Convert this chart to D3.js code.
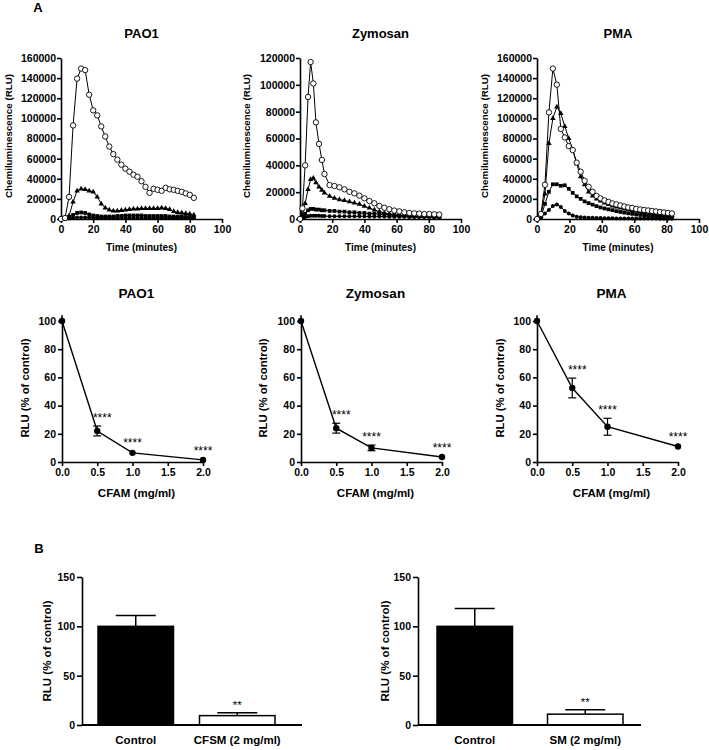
<!DOCTYPE html>
<html><head><meta charset="utf-8">
<script src="https://cdn.jsdelivr.net/npm/d3@7"></script>
<style>
body{margin:0;background:#fff;}
svg{display:block;font-family:"Liberation Sans",Arial,Helvetica,sans-serif;}
.axis text{font-weight:bold;font-size:10.5px;fill:#000;font-family:"Liberation Sans",Arial,sans-serif;}
.axis path,.axis line{stroke:#000;stroke-width:1.6px;}
.lbl{font-weight:bold;fill:#000;}
</style></head><body>
<svg id="c" width="709" height="750"></svg>
<script>
// ---------- DATA ----------
const timeTicks = [0, 20, 40, 60, 80, 100];
const seriesNames = ["Control", "CFAM 0.5 mg/ml", "CFAM 1.0 mg/ml", "CFAM 2.0 mg/ml"];

const pao1Time = [0,2.5,5,7.5,10,12.5,15,17.5,20,22.5,25,27.5,30,32.5,35,37.5,40,42.5,45,47.5,50,52.5,55,57.5,60,62.5,65,67.5,70,72.5,75,77.5,80,82.5];
const pao1Control = [0,1000,22000,93000,139500,149500,148000,123500,108000,103000,92000,82000,72000,64500,59000,54000,50000,47000,44000,42000,37500,32000,26000,30000,29000,28000,31000,29500,29000,28000,27000,25500,24000,21000];
const pao1Cfam05 = [0,500,3000,17000,28000,30000,29500,28000,27000,22000,15000,11000,9000,8000,8000,8500,9000,9500,10000,10000,10500,10500,10500,10500,10500,11000,10500,9500,7500,6500,6000,5500,5000,4000];
const pao1Cfam10 = [0,500,2000,4000,6000,6500,6000,4500,3500,3000,2500,2500,2500,2500,3000,3000,3500,3500,3500,3500,3500,3000,3000,3000,3000,3000,3000,2500,2500,2500,2500,2000,2000,2000];
const pao1Cfam20 = [0,200,500,1000,1500,1500,1500,1500,1200,1000,1000,1000,1000,1000,1000,1000,1000,1000,1000,1000,1000,1000,1000,1000,1000,1000,1000,900,900,800,800,800,700,700];

const zymTime = [0,1.5,3.2,5.0,6.6,8.3,9.9,11.8,13.6,15.2,18.4,21.4,24.5,27.6,30.7,33.8,36.9,40.0,43.1,46.2,49.3,52.4,55.5,58.6,61.7,64.8,67.9,71.0,74.1,77.2,80.3,83.4,86.5];
const zymControl = [0,8000,40000,91000,117000,101000,72000,56000,44000,33500,25300,24600,23600,22100,20300,19100,17400,15400,13400,11700,9700,8400,7300,6300,5700,5000,4500,4200,4000,3700,3700,3500,3300];
const zymCfam05 = [0,3000,11700,22000,29500,30500,27000,24000,21500,19500,17000,15500,14500,13800,12900,12000,11000,9500,8200,6800,5500,4500,3800,3300,2900,2600,2400,2200,2100,2000,1900,1800,1700];
const zymCfam10 = [0,1500,4000,6500,7500,7500,7000,7000,6500,6500,6000,6000,5500,5500,5000,5000,4500,4500,4000,4000,3500,3500,3000,3000,2500,2500,2500,2000,2000,2000,2000,1800,1800];
const zymCfam20 = [0,500,1500,2000,2500,2500,2500,2500,2200,2200,2000,2000,2000,2000,2000,2000,2000,2000,1800,1800,1800,1800,1700,1700,1600,1600,1500,1500,1500,1400,1400,1300,1300];

const pmaTime = [0,2.45,4.9,7.35,9.8,12.25,14.7,17.15,19.6,22.05,24.5,26.95,29.4,31.85,34.3,36.75,39.2,41.65,44.1,46.55,49,51.45,53.9,56.35,58.8,61.25,63.7,66.15,68.6,71.05,73.5,75.95,78.4,80.85,83.3];
const pmaControl = [0,5000,34000,106000,149500,133500,89500,81000,72500,68500,56000,47000,38000,32000,27000,23000,20500,18500,17000,15500,14500,13500,12500,11500,11000,10000,9500,9000,8500,8000,7500,7000,6500,6000,5500];
const pmaCfam05 = [0,3000,25000,75000,100000,111500,105000,92000,80000,69000,55000,42000,34000,27000,23000,20000,18000,16000,14500,13000,12000,11000,10000,9200,8500,7800,7200,6600,6000,5500,5000,4600,4200,3800,3500];
const pmaCfam10 = [0,2000,15000,27000,34500,34500,33000,33500,30000,26000,22500,20000,17500,15800,14300,12800,11500,10500,9600,8800,7800,7000,6300,5700,5100,4600,4100,3600,3200,3000,2800,2600,2500,2400,2300];
const pmaCfam20 = [0,1500,5500,9000,13000,14500,12000,8000,5500,3500,2300,1800,1500,1300,1200,1000,900,800,700,700,600,600,500,500,500,500,400,400,400,400,400,300,300,300,300];

const doseLevels = [0, 0.5, 1.0, 2.0];
const doseTicks = [0, 0.5, 1.0, 1.5, 2.0];
const pao1Dose = [100, 22, 6.5, 1.5];
const pao1DoseErr = [0, 3.5, 1, 0.8];
const zymDose = [100, 24, 10, 3.5];
const zymDoseErr = [0, 3.5, 2, 0.8];
const pmaDose = [100, 52.5, 25, 11];
const pmaDoseErr = [0, 7, 6, 1];
const doseStars = ["", "****", "****", "****"];

const bar1Cats = ["Control", "CFSM (2 mg/ml)"];
const bar1Vals = [100, 9.5];
const bar1Err = [11, 3];
const bar2Cats = ["Control", "SM (2 mg/ml)"];
const bar2Vals = [100, 11];
const bar2Err = [18, 4.5];
const barStars = ["", "**"];
const barTicks = [0, 50, 100, 150];

// ---------- DRAW ----------
const svg = d3.select("#c");
svg.append("rect").attr("width",709).attr("height",750).attr("fill","#fff");

function txt(x, y, s, size, opts = {}) {
  const t = svg.append("text").attr("x", x).attr("y", y).text(s)
    .attr("font-size", size).attr("text-anchor", opts.anchor || "middle")
    .attr("font-weight", opts.weight || "bold").attr("fill", "#000");
  if (opts.rot) t.attr("transform", `rotate(-90,${x},${y})`).attr("dy", "0.35em");
  return t;
}

txt(38, 12, "A", 13);
txt(39, 553, "B", 13);

const topPanels = [
  {name:"PAO1", t:pao1Time, s:[pao1Control,pao1Cfam05,pao1Cfam10,pao1Cfam20], ymax:160000, x0:61, x1:222, labX:9},
  {name:"Zymosan", t:zymTime, s:[zymControl,zymCfam05,zymCfam10,zymCfam20], ymax:120000, x0:300, x1:461, labX:247},
  {name:"PMA", t:pmaTime, s:[pmaControl,pmaCfam05,pmaCfam10,pmaCfam20], ymax:160000, x0:537, x1:699, labX:485}
];

topPanels.forEach(p => {
  const x = d3.scaleLinear().domain([0,100]).range([p.x0,p.x1]);
  const y = d3.scaleLinear().domain([0,p.ymax]).range([219,58]);
  const g = svg.append("g");
  g.append("g").attr("class","axis").attr("transform","translate(0,219)")
    .call(d3.axisBottom(x).tickValues(timeTicks).tickSize(4).tickPadding(3).tickSizeOuter(0));
  g.append("g").attr("class","axis").attr("transform",`translate(${p.x0},0)`)
    .call(d3.axisLeft(y).tickValues(d3.range(0,p.ymax+1,20000)).tickFormat(d3.format("d")).tickSize(4).tickPadding(1).tickSizeOuter(0));
  [3,2,1,0].forEach(k => {
    const vals = p.s[k];
    const pts = p.t.map((t,i) => [x(t), y(vals[i])]);
    g.append("path").attr("d", d3.line()(pts)).attr("fill","none").attr("stroke","#000").attr("stroke-width",1);
    const m = g.append("g");
    pts.forEach(pt => {
      if (k === 0) m.append("circle").attr("cx",pt[0]).attr("cy",pt[1]).attr("r",2.7).attr("fill","#fff").attr("stroke","#000").attr("stroke-width",0.9);
      else if (k === 3) m.append("circle").attr("cx",pt[0]).attr("cy",pt[1]).attr("r",2).attr("fill","#000");
      else {
        const sym = k === 1 ? d3.symbol(d3.symbolTriangle, 13) : d3.symbol(d3.symbolSquare, 14);
        m.append("path").attr("d", sym()).attr("transform",`translate(${pt[0]},${pt[1]})`).attr("fill","#000");
      }
    });
  });
  txt((p.x0+p.x1)/2, 38, p.name, 13);
  txt(p.labX, 136, "Chemiluminescence (RLU)", 9.8, {rot:true});
  txt((p.x0+p.x1)/2, 251, "Time (minutes)", 10);
});

const midPanels = [
  {name:"PAO1", v:pao1Dose, e:pao1DoseErr, x0:62, labX:25},
  {name:"Zymosan", v:zymDose, e:zymDoseErr, x0:301, labX:263},
  {name:"PMA", v:pmaDose, e:pmaDoseErr, x0:537, labX:500}
];

midPanels.forEach(p => {
  const x = d3.scaleLinear().domain([0,2]).range([p.x0,p.x0+141]);
  const y = d3.scaleLinear().domain([0,100]).range([462,321]);
  const g = svg.append("g");
  g.append("g").attr("class","axis").attr("transform","translate(0,462)")
    .call(d3.axisBottom(x).tickValues(doseTicks).tickFormat(d3.format(".1f")).tickSize(4).tickPadding(3).tickSizeOuter(0));
  g.append("g").attr("class","axis").attr("transform",`translate(${p.x0},0)`)
    .call(d3.axisLeft(y).tickValues(d3.range(0,101,20)).tickSize(4).tickPadding(2).tickSizeOuter(0));
  g.append("line").attr("x1",p.x0).attr("x2",p.x0).attr("y1",y(100)).attr("y2",y(104)).attr("stroke","#000").attr("stroke-width",1.6);
  const pts = doseLevels.map((d,i) => [x(d), y(p.v[i])]);
  g.append("path").attr("d", d3.line()(pts)).attr("fill","none").attr("stroke","#000").attr("stroke-width",1.4);
  doseLevels.forEach((d,i) => {
    const cx = x(d);
    if (p.e[i] > 1.2) {
      const yt = y(p.v[i]+p.e[i]), yb = y(p.v[i]-p.e[i]);
      g.append("line").attr("x1",cx).attr("x2",cx).attr("y1",yt).attr("y2",yb).attr("stroke","#000").attr("stroke-width",1.2);
      [yt,yb].forEach(yy => g.append("line").attr("x1",cx-4).attr("x2",cx+4).attr("y1",yy).attr("y2",yy).attr("stroke","#000").attr("stroke-width",1.2));
    }
    g.append("circle").attr("cx",cx).attr("cy",y(p.v[i])).attr("r",3.2).attr("fill","#000");
    if (doseStars[i]) txt(cx + (i===1?5:0), y(p.v[i]+p.e[i]) - 4, doseStars[i], 12, {weight:"normal"});
  });
  txt(p.x0+70.5+4, 298, p.name, 13.5);
  txt(p.labX, 388, "RLU (% of control)", 11.3, {rot:true});
  txt(p.x0+70.5+4, 497, "CFAM (mg/ml)", 11.5);
});

const barPanels = [
  {cats:bar1Cats, v:bar1Vals, e:bar1Err, ax:82, axEnd:302, r:[98,275], labX:47},
  {cats:bar2Cats, v:bar2Vals, e:bar2Err, ax:418, axEnd:641, r:[437,623], labX:385}
];

barPanels.forEach(p => {
  const bw = 75.5;
  const x = d3.scaleBand().domain(p.cats).range(p.r).paddingInner(1 - bw/((p.r[1]-p.r[0]) - bw)).paddingOuter(0);
  const y = d3.scaleLinear().domain([0,150]).range([725,577]);
  const g = svg.append("g");
  g.selectAll("rect.bar").data(p.cats).join("rect")
    .attr("x", d => x(d)).attr("width", x.bandwidth())
    .attr("y", (d,i) => y(p.v[i])).attr("height", (d,i) => y(0) - y(p.v[i]))
    .attr("fill", (d,i) => i === 0 ? "#000" : "#fff").attr("stroke","#000").attr("stroke-width",1.5);
  p.cats.forEach((c,i) => {
    const cx = x(c) + x.bandwidth()/2;
    const yt = y(p.v[i]+p.e[i]);
    g.append("line").attr("x1",cx).attr("x2",cx).attr("y1",yt).attr("y2",y(p.v[i])).attr("stroke","#000").attr("stroke-width",1.5);
    g.append("line").attr("x1",cx-20).attr("x2",cx+20).attr("y1",yt).attr("y2",yt).attr("stroke","#000").attr("stroke-width",1.5);
    if (barStars[i]) txt(cx, yt - 4, barStars[i], 11.5, {weight:"normal"});
    txt(cx, 744, c, 11.5);
  });
  g.append("g").attr("class","axis").attr("transform",`translate(${p.ax},0)`)
    .call(d3.axisLeft(y).tickValues(barTicks).tickSize(5).tickPadding(2).tickSizeOuter(0));
  g.append("line").attr("x1",p.ax).attr("x2",p.axEnd).attr("y1",725).attr("y2",725).attr("stroke","#000").attr("stroke-width",1.8);
  txt(p.labX, 651, "RLU (% of control)", 11.5, {rot:true});
});
</script>
</body></html>
